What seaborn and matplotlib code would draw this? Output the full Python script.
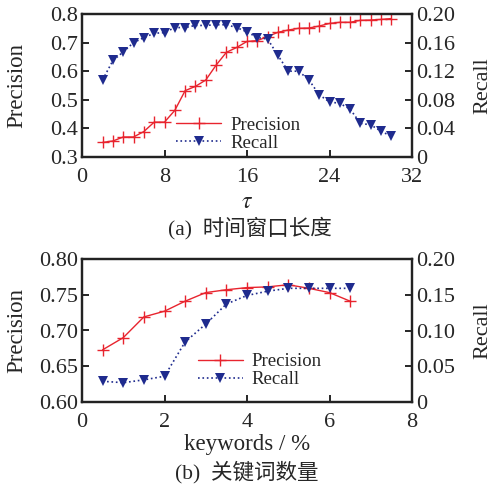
import numpy as np
import pandas as pd
import matplotlib
matplotlib.use("Agg")
import matplotlib.pyplot as plt
import seaborn as sns

# (a) time window length
tau = list(range(2, 31))
prec_a = [0.351, 0.356, 0.370, 0.370, 0.389, 0.422, 0.422, 0.463, 0.532, 0.547,
          0.569, 0.621, 0.666, 0.683, 0.704, 0.707, 0.721, 0.736, 0.744, 0.750,
          0.751, 0.758, 0.767, 0.771, 0.771, 0.778, 0.779, 0.781, 0.784]
rec_a = [0.108, 0.135, 0.147, 0.160, 0.167, 0.173, 0.174, 0.181, 0.181, 0.184,
         0.184, 0.185, 0.185, 0.181, 0.175, 0.167, 0.165, 0.142, 0.120, 0.120,
         0.108, 0.087, 0.077, 0.075, 0.067, 0.047, 0.045, 0.036, 0.029]

# (b) number of keywords
kw = [0.5, 1.0, 1.5, 2.0, 2.5, 3.0, 3.5, 4.0, 4.5, 5.0, 5.5, 6.0, 6.5]
prec_b = [0.673, 0.690, 0.719, 0.727, 0.741, 0.753, 0.757, 0.760, 0.761, 0.764,
          0.759, 0.753, 0.741]
rec_b = [0.029, 0.027, 0.031, 0.036, 0.084, 0.109, 0.137, 0.149, 0.155, 0.159,
         0.159, 0.159, 0.159]

sns.set_style("ticks")
plt.rcParams['font.family'] = ['Liberation Serif', 'Noto Sans CJK SC', 'DejaVu Sans']
plt.rcParams['mathtext.fontset'] = 'stix'

RED = '#e8242e'
BLUE = '#1f2b8e'
FS = 16

df_a = pd.DataFrame({"x": tau, "p": prec_a, "r": rec_a})
df_b = pd.DataFrame({"x": kw, "p": prec_b, "r": rec_b})

fig = plt.figure(figsize=(4.95, 4.88), dpi=100)
ax1 = fig.add_axes([82/495, 1-157/488, 330/495, 143/488])
ax2 = fig.add_axes([82/495, 1-402/488, 330/495, 143/488])


def panel(ax, df, xlim, xticks, ylim, yticks, yfmt, rlim, rticks, rlabels, leg_xy):
    sns.lineplot(data=df, x="x", y="p", ax=ax, color=RED, marker='+', markersize=8,
                 markeredgewidth=1.0, markeredgecolor=RED, linewidth=1.0,
                 label="Precision", legend=False)
    axr = ax.twinx()
    sns.lineplot(data=df, x="x", y="r", ax=axr, color=BLUE, marker='v', markersize=6.5,
                 markeredgewidth=0, linewidth=1.2, linestyle=':', label="Recall", legend=False)
    ax.set_xlim(*xlim)
    ax.set_xticks(xticks)
    ax.set_ylim(*ylim)
    ax.set_yticks(yticks)
    ax.set_yticklabels([yfmt.format(v) for v in yticks])
    axr.set_ylim(*rlim)
    axr.set_yticks(rticks)
    axr.set_yticklabels(rlabels)
    for a in (ax, axr):
        a.tick_params(direction='in', length=5, width=1.4, labelsize=FS, pad=3)
        for s in a.spines.values():
            s.set_linewidth(1.6)
            s.set_color('#222222')
    ax.tick_params(axis='x', pad=8)
    ax.set_ylabel("Precision", fontsize=16.5)
    ax.yaxis.set_label_coords(-0.167, 0.5)
    axr.set_ylabel("Recall", fontsize=16)
    axr.yaxis.set_label_coords(1.185, 0.5)
    h1, l1 = ax.get_legend_handles_labels()
    h2, l2 = axr.get_legend_handles_labels()
    axr.legend(h1 + h2, l1 + l2, loc='center left', bbox_to_anchor=leg_xy, frameon=False,
               fontsize=13.5, handlelength=2.4, handletextpad=0.5, labelspacing=0.05,
               borderpad=0, borderaxespad=0)
    return axr


panel(ax1, df_a, (0, 32), [0, 8, 16, 24, 32], (0.3, 0.8), [0.3, 0.4, 0.5, 0.6, 0.7, 0.8],
      "{:.1f}", (0, 0.2), [0, 0.04, 0.08, 0.12, 0.16, 0.20],
      ["0", "0.04", "0.08", "0.12", "0.16", "0.20"], (0.285, 0.16))
ax1.set_xlabel(r"$\tau$", fontsize=17)
ax1.xaxis.set_label_coords(0.5, -0.245)

panel(ax2, df_b, (0, 8), [0, 2, 4, 6, 8], (0.6, 0.8), [0.60, 0.65, 0.70, 0.75, 0.80],
      "{:.2f}", (0, 0.2), [0, 0.05, 0.10, 0.15, 0.20],
      ["0", "0.05", "0.10", "0.15", "0.20"], (0.35, 0.22))
ax2.set_xlabel("keywords / %", fontsize=16.5)
ax2.xaxis.set_label_coords(0.5, -0.225)

fig.text(0.505, 1-228/488, "(a)  时间窗口长度", ha='center', va='center', fontsize=15.5)
fig.text(0.499, 1-472/488, "(b)  关键词数量", ha='center', va='center', fontsize=15.5)

fig.savefig("out.png", dpi=100)
